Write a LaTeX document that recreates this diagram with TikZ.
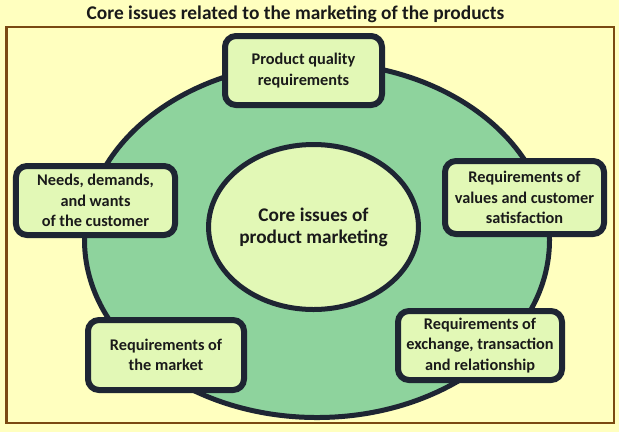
\documentclass[tikz,border=0pt]{standalone}
\usepackage{fontspec}
\setmainfont{Carlito}
\usetikzlibrary{shapes.geometric}
\definecolor{bgyellow}{HTML}{FFFFBF}
\definecolor{framebrown}{HTML}{7A4A12}
\definecolor{ringgreen}{HTML}{8ED39D}
\definecolor{boxfill}{HTML}{E2F8B6}
\definecolor{outline}{HTML}{1E2533}
\definecolor{txt}{HTML}{1A1A1A}
\tikzset{
  issuebox/.style={draw=outline, line width=6bp, fill=boxfill, rounded corners=11bp,
    align=center, text=txt, inner sep=0pt, font=\bfseries\fontsize{16.3bp}{20.5bp}\selectfont},
  bigellipse/.style={draw=outline, line width=5bp, fill=ringgreen, ellipse, inner sep=0pt},
  coreellipse/.style={draw=outline, line width=5bp, fill=boxfill, ellipse, inner sep=0pt,
    align=center, text=txt, font=\bfseries\fontsize{19.3bp}{22bp}\selectfont},
  titletext/.style={text=txt, font=\bfseries\fontsize{19.4bp}{22bp}\selectfont, inner sep=0pt},
  framebox/.style={draw=framebrown, line width=2.2bp}
}
\begin{document}
\begin{tikzpicture}[x=1bp,y=-1bp]
\fill[bgyellow] (0,0) rectangle (619,432);
\useasboundingbox (0,0) rectangle (619,432);
\node[titletext] (title) at (295.5,14) {Core issues related to the marketing of the products};
\draw[framebox] (6.5,27) rectangle (614,423);
\node[bigellipse, minimum width=465bp, minimum height=355bp] (ring) at (317,240) {};
\node[coreellipse, minimum width=208bp, minimum height=165bp] (core) at (313.5,227) {Core issues of\\product marketing};
\node[issuebox, minimum width=157bp, minimum height=69bp] (quality) at (303.5,70.5) {Product quality\\requirements};
\node[issuebox, minimum width=159bp, minimum height=69bp] (needs) at (95.5,200.5) {Needs, demands,\\and wants\\of the customer};
\node[issuebox, minimum width=159bp, minimum height=73bp] (values) at (524.5,197.5) {Requirements of\\values and customer\\satisfaction};
\node[issuebox, minimum width=156bp, minimum height=70bp] (market) at (166,355) {Requirements of\\the market};
\node[issuebox, minimum width=164bp, minimum height=69bp] (exchange) at (480,345.5) {Requirements of\\exchange, transaction\\and relationship};
\end{tikzpicture}
\end{document}
